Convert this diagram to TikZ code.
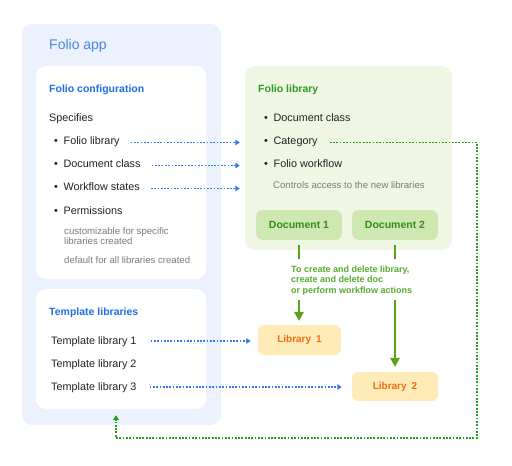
\documentclass[tikz,border=0pt]{standalone}
\usepackage{fontspec}
\setmainfont{Liberation Sans}
\usetikzlibrary{arrows.meta}

\definecolor{appbg}{HTML}{EBF2FE}
\definecolor{appblue}{HTML}{4A86E8}
\definecolor{titleblue}{HTML}{1F6FE5}
\definecolor{dotblue}{HTML}{3478F6}
\definecolor{flibbg}{HTML}{EFF7E4}
\definecolor{docbg}{HTML}{CFE8B2}
\definecolor{titlegreen}{HTML}{2E9B22}
\definecolor{docgreen}{HTML}{2D8F1E}
\definecolor{notegreen}{HTML}{56AB2F}
\definecolor{linegreen}{HTML}{5AA319}
\definecolor{dotgreen}{HTML}{23A023}
\definecolor{libbg}{HTML}{FFEBB8}
\definecolor{liborange}{HTML}{F26B10}
\definecolor{softgray}{HTML}{7A7A7A}
\definecolor{ink}{HTML}{222222}

\newcommand{\bul}[1]{\makebox[9.5pt][l]{\textbullet}#1}

\begin{document}
\begin{tikzpicture}[x=1pt,y=-1pt]
    \tikzstyle{panel}=[rounded corners=10pt,inner sep=0]
    \tikzstyle{card}=[panel,fill=white,minimum width=170]
    \tikzstyle{docbox}=[rounded corners=7pt,inner sep=0,fill=docbg,minimum width=86,minimum height=30,text=docgreen,font=\bfseries\fontsize{10.5}{12}\selectfont]
    \tikzstyle{libbox}=[rounded corners=6pt,inner sep=0,fill=libbg,minimum height=30,text=liborange,font=\bfseries\fontsize{10}{12}\selectfont]
    \tikzstyle{item}=[inner sep=0,anchor=west,text height=6pt,text depth=3pt,text=ink,font=\fontsize{10.8}{13}\selectfont]
    \tikzstyle{tplitem}=[item,text height=7pt,text depth=0pt]
    \tikzstyle{head}=[inner sep=0,anchor=base west,font=\bfseries\fontsize{10.5}{12}\selectfont]
    \tikzstyle{hint}=[inner sep=0,anchor=base west,text=softgray,font=\fontsize{9.6}{11}\selectfont]
    \tikzstyle{bluedots}=[dotblue,line width=1.4pt,dash pattern=on 1.7pt off 1.6pt,-{Triangle[length=4.5pt,width=5.5pt]},shorten >=5pt]
    \tikzstyle{greendots}=[dotgreen,line width=1.3pt,dash pattern=on 1.8pt off 1.5pt,-{Triangle[length=5pt,width=6pt]}]
    \tikzstyle{greenline}=[linegreen,line width=1.8pt]

    \useasboundingbox (0,0) rectangle (512,466);

    \node[panel,fill=appbg,minimum width=199,minimum height=401] (app) at (121.5,224.5) {};
    \node[card,minimum height=213] (conf) at (121,172.5) {};
    \node[card,minimum height=120] (tpl) at (121,349) {};
    \node[panel,fill=flibbg,minimum width=207,minimum height=184] (flib) at (348.5,158) {};

    \node[inner sep=0,anchor=base west,text=appblue,font=\fontsize{14}{16}\selectfont] (apptitle) at (49,49) {Folio app};

    \node[head,text=titleblue] (conftitle) at (49,92) {Folio configuration};
    \node[inner sep=0,anchor=base west,text=ink,font=\fontsize{10.8}{13}\selectfont] (spec) at (49,121) {Specifies};
    \node[item] (cfl) at (54,142.5) {\bul{Folio library}};
    \node[item] (cdc) at (54,165.5) {\bul{Document class}};
    \node[item] (cws) at (54,188.5) {\bul{Workflow states}};
    \node[item] (cpm) at (54,212.5) {\bul{Permissions}};
    \node[hint] (h1) at (64,234) {customizable for specific};
    \node[hint] (h2) at (64,244) {libraries created};
    \node[hint] (h3) at (64,263) {default for all libraries created};

    \node[head,text=titleblue] (tpltitle) at (49,315) {Template libraries};
    \node[tplitem] (t1) at (51,341) {Template library 1};
    \node[tplitem] (t2) at (51,364) {Template library 2};
    \node[tplitem] (t3) at (51,387) {Template library 3};

    \node[head,text=titlegreen] (fltitle) at (258,92) {Folio library};
    \node[item] (fdc) at (264,119.5) {\bul{Document class}};
    \node[item] (cat) at (264,142.5) {\bul{Category}};
    \node[item] (fwf) at (264,165.5) {\bul{Folio workflow}};
    \node[hint] (ctl) at (273,188) {Controls access to the new libraries};

    \node[docbox] (doc1) at (299,225) {Document 1};
    \node[docbox] (doc2) at (395,225) {Document 2};

    \node[inner sep=0,anchor=north west,align=left,text=notegreen,font=\bfseries\fontsize{9}{10.2}\selectfont] (note) at (291,266)
        {To create and delete library,\\create and delete doc\\or perform workflow actions};

    \node[libbox,minimum width=83] (lib1) at (299.5,340) {Library\enspace 1\hspace{5pt}};
    \node[libbox,minimum width=86,minimum height=29] (lib2) at (395,386.5) {Library\enspace 2\hspace{5pt}};

    \draw[bluedots,shorten <=11pt] (cfl.east) -- (cfl -| flib.west);
    \draw[bluedots,shorten <=11pt] (cdc.east) -- (cdc -| flib.west);
    \draw[bluedots,shorten <=11pt] (cws.east) -- (cws -| flib.west);
    \draw[bluedots,shorten <=14pt,shorten >=7pt] (t1.east) -- (lib1.west |- t1);
    \draw[bluedots,shorten <=13pt,shorten >=10pt] (t3.east) -- (lib2.west |- t3);

    \draw[greenline,shorten <=5pt,shorten >=7pt] (doc1.south) -- (doc1.south |- note.north);
    \draw[greenline,shorten <=5pt,shorten >=7pt] (doc2.south) -- (doc2.south |- note.north);
    \draw[greenline,-{Triangle[length=9pt,width=9.5pt]},shorten <=5pt,shorten >=4pt] (doc1.south |- note.south) -- (doc1.south |- lib1.north);
    \draw[greenline,-{Triangle[length=9pt,width=9.5pt]},shorten <=5pt,shorten >=5pt] (doc2.south |- note.south) -- (lib2.north);

    \coordinate (turn) at (477,438);
    \draw[greendots,shorten <=12pt,shorten >=6pt] (cat.east) -- (cat.east -| turn) -- (turn) -| ([xshift=-5pt]tpl.south);
\end{tikzpicture}
\end{document}
